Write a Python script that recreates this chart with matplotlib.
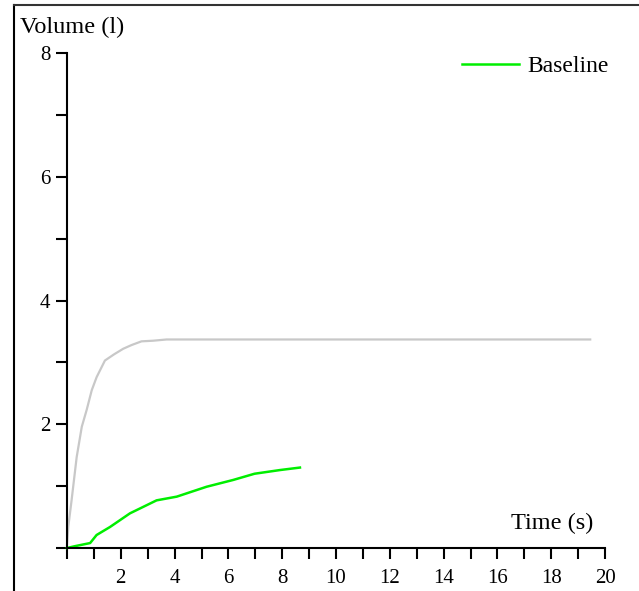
import matplotlib
matplotlib.use("Agg")
import matplotlib.pyplot as plt
from matplotlib.lines import Line2D
from matplotlib.ticker import MultipleLocator, FixedLocator

plt.rcParams['font.family'] = ['Liberation Serif', 'DejaVu Serif']

# Data
gray_t = [0.0, 0.05, 0.17, 0.36, 0.55, 0.73, 0.92, 1.1, 1.41, 1.75, 2.09, 2.4, 2.77, 3.2, 3.7, 19.45]
gray_v = [0.05, 0.35, 0.77, 1.47, 1.96, 2.23, 2.55, 2.76, 3.03, 3.13, 3.22, 3.28, 3.34, 3.35, 3.37, 3.37]

base_t = [0.0, 0.3, 0.86, 1.1, 1.6, 2.34, 3.33, 4.08, 5.19, 6.18, 6.97, 7.92, 8.66]
base_v = [0.0, 0.03, 0.08, 0.21, 0.34, 0.56, 0.77, 0.83, 0.99, 1.10, 1.20, 1.26, 1.30]

x_major = [0, 2, 4, 6, 8, 10, 12, 14, 16, 18, 20]
x_labels = ['', '2', '4', '6', '8', '10', '12', '14', '16', '18', '20']
y_major = [0, 2, 4, 6, 8]
y_labels = ['', '2', '4', '6', '8']

fig = plt.figure(figsize=(6.39, 5.91), dpi=100)
ax = fig.add_axes([67/639, 1-548/591, (605-67)/639, (548-53)/591])

ax.plot(gray_t, gray_v, color='#c8c8c8', lw=1.6, clip_on=False)
ax.plot(base_t, base_v, color='#00ee00', lw=1.8, label='Baseline', clip_on=False)

ax.set_xlim(0, 20)
ax.set_ylim(0, 8)
for s in ['top', 'right']:
    ax.spines[s].set_visible(False)
for s in ['left', 'bottom']:
    ax.spines[s].set_linewidth(1.5)

ax.xaxis.set_major_locator(FixedLocator(x_major))
ax.set_xticklabels(x_labels)
ax.xaxis.set_minor_locator(MultipleLocator(1))
ax.yaxis.set_major_locator(FixedLocator(y_major))
ax.set_yticklabels(y_labels)
ax.yaxis.set_minor_locator(MultipleLocator(1))
ax.tick_params(which='both', direction='out', length=8, width=1.5, color='black')
ax.tick_params(axis='x', which='major', labelsize=15, pad=7)
ax.tick_params(axis='y', which='major', labelsize=15, pad=4)

fig.text(20/639, 1-27/591, 'Volume (l)', fontsize=17.5, ha='left', va='center')
fig.text(593/639, 1-523/591, 'Time (s)', fontsize=17.5, ha='right', va='center')

leg = ax.legend(loc='upper right', bbox_to_anchor=(618/639, 1-46/591),
                bbox_transform=fig.transFigure, frameon=False, fontsize=17,
                handlelength=2.4, handletextpad=0.35, borderaxespad=0)

# outer frame (left and top edges)
fig.add_artist(Line2D([14/639, 14/639], [0, 1-5/591], transform=fig.transFigure, color='black', lw=1.5))
fig.add_artist(Line2D([14/639, 1], [1-5/591, 1-5/591], transform=fig.transFigure, color='#333333', lw=1.5))

fig.savefig('out.png', dpi=100)
